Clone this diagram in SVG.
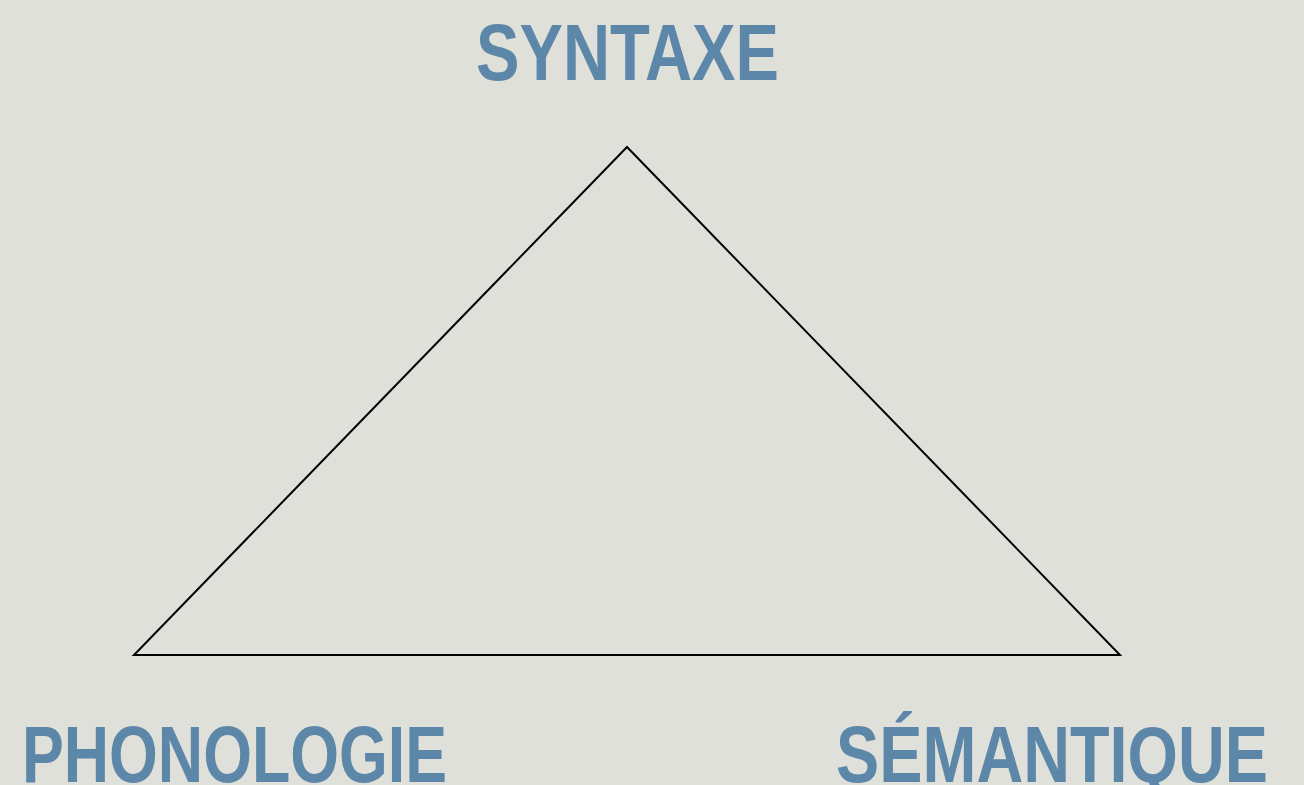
<svg xmlns="http://www.w3.org/2000/svg" width="1304" height="785" viewBox="0 0 1304 785">
<style>
.lbl{font-family:"Liberation Sans",Arial,sans-serif;font-weight:bold;font-size:80px;fill:#5d87a8}
.edge{fill:none;stroke:#000;stroke-width:2;stroke-linejoin:miter}
</style>
<rect width="1304" height="785" fill="#dfe0da"/>
<g id="connectors">
<path class="edge" d="M627,147 L1120,655 L134,655 Z"/>
</g>
<g id="syntaxe"><text class="lbl" x="476" y="80" textLength="303" lengthAdjust="spacingAndGlyphs">SYNTAXE</text></g>
<g id="phonologie"><text class="lbl" x="22" y="782" textLength="425" lengthAdjust="spacingAndGlyphs">PHONOLOGIE</text></g>
<g id="semantique"><text class="lbl" x="836" y="782" textLength="432" lengthAdjust="spacingAndGlyphs">SÉMANTIQUE</text></g>
</svg>
